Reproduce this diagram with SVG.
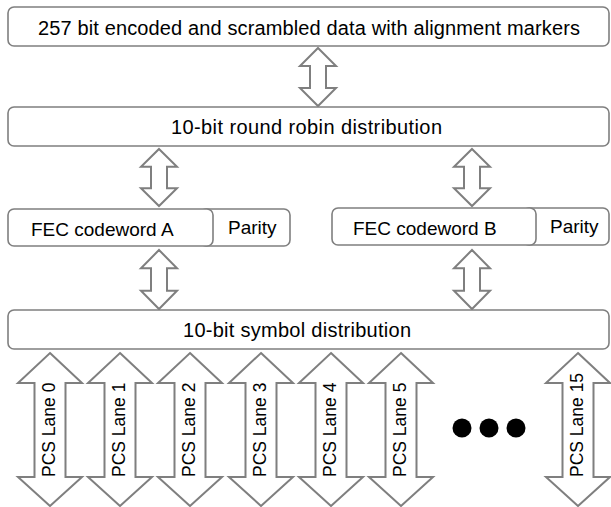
<svg xmlns="http://www.w3.org/2000/svg" xmlns:xlink="http://www.w3.org/1999/xlink" width="611" height="507" viewBox="0 0 611 507">
<style>
.box{fill:#fff;stroke:#7f7f7f;stroke-width:1.6}
.arr{fill:#fff;stroke:#7f7f7f;stroke-width:2;stroke-linejoin:miter}
.t{font-family:"Liberation Sans",Arial,sans-serif;font-size:19px;fill:#000}
.tl{font-family:"Liberation Sans",Arial,sans-serif;font-size:20px;fill:#000}
.lt{font-family:"Liberation Sans",Arial,sans-serif;font-size:17.5px;fill:#000}
</style>
<defs>
<path id="lane" d="M0,353 L32,383 L15.5,383 L15.5,477 L32,477 L0,506 L-32,477 L-15.5,477 L-15.5,383 L-32,383 Z"/>
<path id="dbl" d="M0,0 L18,18 L8,18 L8,40 L18,40 L0,58 L-18,40 L-8,40 L-8,18 L-18,18 Z"/>
</defs>
<rect width="611" height="507" fill="#fff"/>

<g id="connectors">
<use href="#dbl" xlink:href="#dbl" class="arr" transform="translate(318,48)"/>
<use href="#dbl" xlink:href="#dbl" class="arr" transform="translate(159,149) scale(1,0.983)"/>
<use href="#dbl" xlink:href="#dbl" class="arr" transform="translate(472,149) scale(1,0.983)"/>
<use href="#dbl" xlink:href="#dbl" class="arr" transform="translate(159,250) scale(1,1.017)"/>
<use href="#dbl" xlink:href="#dbl" class="arr" transform="translate(472,250) scale(1,1.017)"/>
</g>

<g id="node-input">
<rect class="box" x="8" y="7" width="601" height="39" rx="6"/>
<text class="tl" x="38" y="35" textLength="542">257 bit encoded and scrambled data with alignment markers</text>
</g>

<g id="node-roundrobin">
<rect class="box" x="8" y="107" width="601" height="39" rx="6"/>
<text class="tl" x="171" y="134" textLength="271">10-bit round robin distribution</text>
</g>

<g id="node-fec-a">
<rect class="box" x="200" y="209" width="90" height="37" rx="6"/>
<rect class="box" x="8" y="209" width="205" height="37" rx="6"/>
<text class="t" x="31" y="236">FEC codeword A</text>
<text class="t" x="228" y="234">Parity</text>
</g>

<g id="node-fec-b">
<rect class="box" x="523" y="208" width="86" height="37" rx="6"/>
<rect class="box" x="332" y="208" width="204" height="37" rx="6"/>
<text class="t" x="353" y="235">FEC codeword B</text>
<text class="t" x="550" y="233">Parity</text>
</g>

<g id="node-symbol">
<rect class="box" x="8" y="310" width="601" height="39" rx="6"/>
<text class="tl" x="183" y="337" textLength="228">10-bit symbol distribution</text>
</g>

<g id="lanes">
<g id="lane-0"><use href="#lane" xlink:href="#lane" class="arr" x="50"/><text class="lt" transform="translate(55,477) rotate(-90)">PCS Lane 0</text></g>
<g id="lane-1"><use href="#lane" xlink:href="#lane" class="arr" x="120"/><text class="lt" transform="translate(125,477) rotate(-90)">PCS Lane 1</text></g>
<g id="lane-2"><use href="#lane" xlink:href="#lane" class="arr" x="190"/><text class="lt" transform="translate(195,477) rotate(-90)">PCS Lane 2</text></g>
<g id="lane-3"><use href="#lane" xlink:href="#lane" class="arr" x="261"/><text class="lt" transform="translate(266,477) rotate(-90)">PCS Lane 3</text></g>
<g id="lane-4"><use href="#lane" xlink:href="#lane" class="arr" x="331"/><text class="lt" transform="translate(336,477) rotate(-90)">PCS Lane 4</text></g>
<g id="lane-5"><use href="#lane" xlink:href="#lane" class="arr" x="401"/><text class="lt" transform="translate(406,477) rotate(-90)">PCS Lane 5</text></g>
<g id="lane-15"><use href="#lane" xlink:href="#lane" class="arr" x="578"/><text class="lt" transform="translate(583,477) rotate(-90)">PCS Lane 15</text></g>
</g>

<g id="ellipsis" fill="#000">
<circle cx="462" cy="428" r="9.5"/>
<circle cx="489" cy="428" r="9.5"/>
<circle cx="516" cy="428" r="9.5"/>
</g>
</svg>
